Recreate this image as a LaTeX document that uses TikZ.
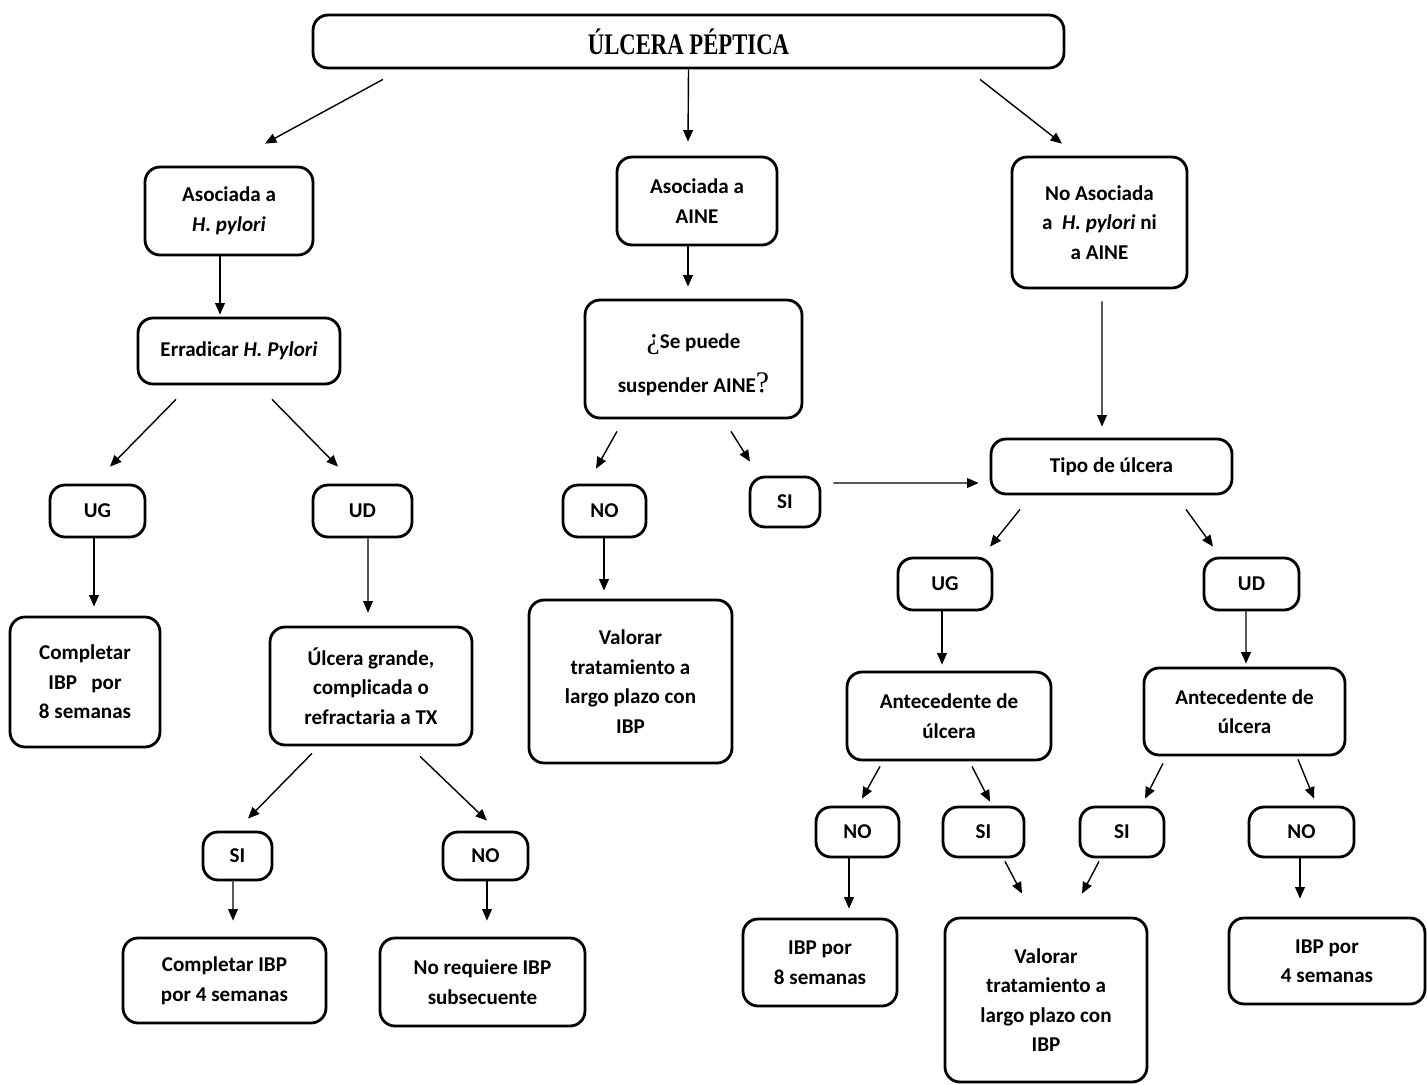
\documentclass[tikz,border=0pt]{standalone}
\usepackage{fontspec}
\setmainfont{Carlito}
\newfontfamily\titlefont[FakeStretch=0.76]{Liberation Serif}
\newfontfamily\qfont{Liberation Serif}
\usetikzlibrary{arrows.meta,calc}

\tikzset{
  box/.style={draw, line width=1.6pt, rounded corners=0.3cm, align=center,
    inner sep=0pt, font=\fontsize{12}{16.8}\selectfont\bfseries},
  arr/.style={line width=0.8pt, -{Triangle[length=6.5pt,width=5.5pt]}}
}

\begin{document}
\begin{tikzpicture}[x=0.02cm,y=-0.02cm]
        \useasboundingbox (0,0) rectangle (1427,1085);

        % Define nodes
        \node[box, minimum width=15.02cm, minimum height=1.06cm] (ttl) at (688.5,41.5)
          {\titlefont\fontsize{17}{19}\selectfont ÚLCERA PÉPTICA};

        % H. pylori branch
        \node[box, minimum width=3.36cm, minimum height=1.76cm] (hp) at (229,211) {Asociada a\\ \textit{H. pylori}};
        \node[box, minimum width=4.04cm, minimum height=1.32cm] (err) at (239,351) {Erradicar \textit{H. Pylori}};
        \node[box, minimum width=1.9cm, minimum height=1.04cm] (ugl) at (97.5,511) {UG};
        \node[box, minimum width=1.98cm, minimum height=1.04cm] (udl) at (362.5,511) {UD};
        \node[box, minimum width=3.0cm, minimum height=2.6cm] (cmp8) at (85,682) {Completar\\ IBP~~~por\\ 8 semanas};
        \node[box, minimum width=4.04cm, minimum height=2.36cm] (big) at (371,686) {Úlcera grande,\\ complicada o\\ refractaria a TX};
        \node[box, minimum width=1.38cm, minimum height=0.96cm] (sil) at (237.5,856) {SI};
        \node[box, minimum width=1.7cm, minimum height=0.96cm] (nol) at (485.5,856) {NO};
        \node[box, minimum width=4.06cm, minimum height=1.7cm] (cmp4) at (224.5,980.5) {Completar IBP\\ por 4 semanas};
        \node[box, minimum width=4.1cm, minimum height=1.76cm] (noreq) at (482.5,982) {No requiere IBP\\ subsecuente};

        % AINE branch
        \node[box, minimum width=3.2cm, minimum height=1.76cm] (aine) at (697,201) {Asociada a\\ AINE};
        \node[box, minimum width=4.34cm, minimum height=2.36cm] (susp) at (693.5,359)
          {\rule{0pt}{0.52cm}{\qfont\mdseries\fontsize{17}{17}\selectfont ¿}Se puede\\[0.28cm] suspender AINE{\qfont\mdseries\fontsize{17}{17}\selectfont ?}};
        \node[box, minimum width=1.66cm, minimum height=1.04cm] (nom) at (604.5,511) {NO};
        \node[box, minimum width=1.4cm, minimum height=1.0cm] (sim) at (785,502) {SI};
        \node[box, minimum width=4.06cm, minimum height=3.26cm] (valm) at (630.5,681.5) {Valorar\\ tratamiento a\\ largo plazo con\\ IBP};

        % no asociada branch
        \node[box, minimum width=3.5cm, minimum height=2.62cm] (noas) at (1099.5,222.5) {No Asociada\\ a~~\textit{H. pylori} ni\\ a AINE};
        \node[box, minimum width=4.82cm, minimum height=1.1cm] (tipo) at (1111.5,466.5) {Tipo de úlcera};
        \node[box, minimum width=1.88cm, minimum height=1.04cm] (ugr) at (945,584) {UG};
        \node[box, minimum width=1.9cm, minimum height=1.04cm] (udr) at (1251.5,584) {UD};
        \node[box, minimum width=4.08cm, minimum height=1.76cm] (antl) at (949,716) {Antecedente de\\ úlcera};
        \node[box, minimum width=4.02cm, minimum height=1.74cm] (antr) at (1244.5,711.5) {Antecedente de\\ úlcera};
        \node[box, minimum width=1.66cm, minimum height=1.0cm] (noa) at (857.5,832) {NO};
        \node[box, minimum width=1.62cm, minimum height=1.0cm] (sia) at (983.5,832) {SI};
        \node[box, minimum width=1.68cm, minimum height=1.0cm] (sib) at (1122,832) {SI};
        \node[box, minimum width=2.1cm, minimum height=1.0cm] (nob) at (1301.5,832) {NO};
        \node[box, minimum width=3.08cm, minimum height=1.74cm] (ibp8) at (820,962.5) {IBP por\\ 8 semanas};
        \node[box, minimum width=4.04cm, minimum height=3.28cm] (valr) at (1046,1000) {Valorar\\ tratamiento a\\ largo plazo con\\ IBP};
        \node[box, minimum width=3.92cm, minimum height=1.72cm] (ibp4) at (1327,961) {IBP por\\ 4 semanas};

        % Draw arrows
        \draw[arr] ($(ttl.south)+(-305.5,10)$) -- ($(hp.north)+(36,-22)$);
        \draw[arr] (ttl.south) -- ($(aine.north)+(-9,-14)$);
        \draw[arr] ($(ttl.south)+(291.5,10)$) -- ($(noas.north)+(-37.5,-12)$);

        \draw[arr] ($(hp.south)+(-9,0)$) -- ($(err.north)+(-19,-2)$);
        \draw[arr] ($(err.south)+(-63,14)$) -- ($(ugl.north)+(12.5,-17)$);
        \draw[arr] ($(err.south)+(33,14)$) -- ($(udl.north)+(-24.5,-17)$);
        \draw[arr] ($(ugl.south)+(-3.5,0)$) -- ($(cmp8.north)+(9,-9)$);
        \draw[arr] ($(udl.south)+(5.5,0)$) -- ($(big.north)+(-3,-13)$);
        \draw[arr] ($(big.south)+(-59,7)$) -- ($(sil.north)+(10.5,-12)$);
        \draw[arr] ($(big.south)+(49,10)$) -- ($(nol.north)+(1.5,-10)$);
        \draw[arr] ($(sil.south)+(-4.5,0)$) -- ($(cmp4.north)+(8.5,-16)$);
        \draw[arr] ($(nol.south)+(1.5,0)$) -- ($(noreq.north)+(4.5,-16)$);

        \draw[arr] ($(aine.south)+(-9,0)$) -- ($(susp.north)+(-5.5,-12)$);
        \draw[arr] ($(susp.south)+(-76.5,12)$) -- ($(nom.north)+(-8.5,-15)$);
        \draw[arr] ($(susp.south)+(37.5,12)$) -- ($(sim.north)+(-35,-14)$);
        \draw[arr] ($(nom.south)+(-0.5,0)$) -- ($(valm.north)+(-26.5,-8)$);
        \draw[arr] ($(sim.east)+(12,-19)$) -- ($(tipo.west)+(-11,16.5)$);

        \draw[arr] ($(noas.south)+(2.5,12)$) -- ($(tipo.north)+(-9.5,-11)$);
        \draw[arr] ($(tipo.south)+(-91.5,14)$) -- ($(ugr.north)+(45,-10)$);
        \draw[arr] ($(tipo.south)+(74.5,14)$) -- ($(udr.north)+(-38.5,-10)$);
        \draw[arr] ($(ugr.south)+(-3,0)$) -- ($(antl.north)+(-7,-6)$);
        \draw[arr] ($(udr.south)+(-5.5,0)$) -- ($(antr.north)+(1.5,-3)$);
        \draw[arr] ($(antl.south)+(-69,5)$) -- ($(noa.north)+(4.5,-7)$);
        \draw[arr] ($(antl.south)+(23,5)$) -- ($(sia.north)+(6.5,-4)$);
        \draw[arr] ($(antr.south)+(-81.5,7)$) -- ($(sib.north)+(23,-7)$);
        \draw[arr] ($(antr.south)+(53.5,3)$) -- ($(nob.north)+(12.5,-7)$);
        \draw[arr] ($(noa.south)+(-8.5,0)$) -- ($(ibp8.north)+(29,-9)$);
        \draw[arr] ($(sia.south)+(21.5,3)$) -- ($(valr.north)+(-24,-23)$);
        \draw[arr] ($(sib.south)+(-23,3)$) -- ($(valr.north)+(36,-23)$);
        \draw[arr] ($(nob.south)+(-1.5,0)$) -- ($(ibp4.north)+(-27,-18)$);
    \end{tikzpicture}
\end{document}
